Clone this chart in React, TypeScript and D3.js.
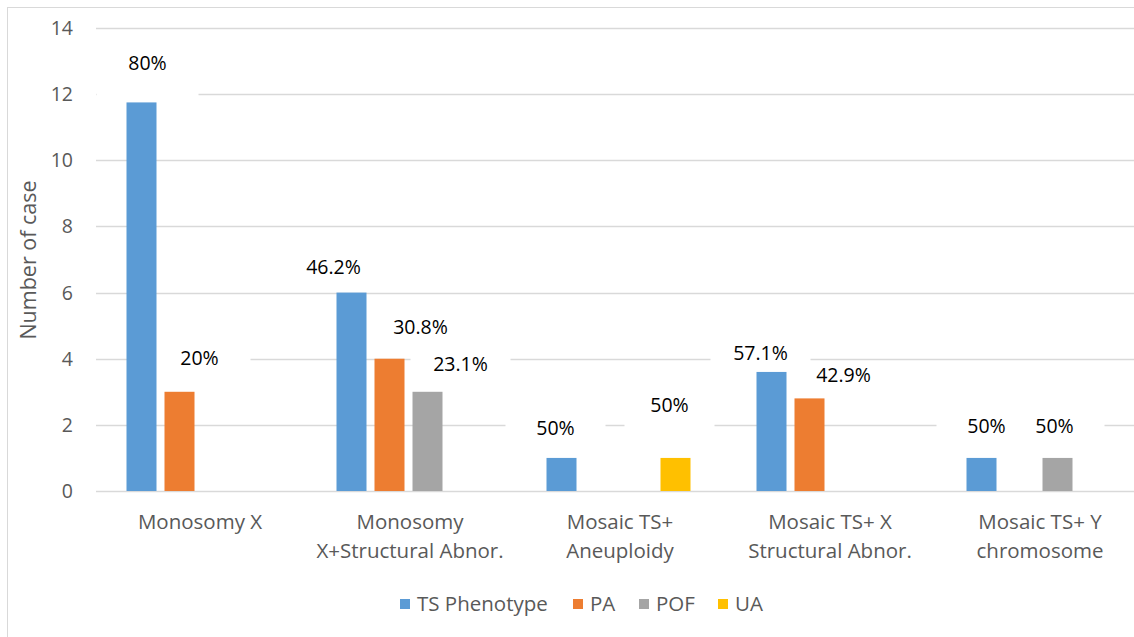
import React from "react";
import * as d3 from "d3";

const categories = [
  ["Monosomy X"],
  ["Monosomy", "X+Structural Abnor."],
  ["Mosaic TS+", "Aneuploidy"],
  ["Mosaic TS+ X", "Structural Abnor."],
  ["Mosaic TS+ Y", "chromosome"],
];
const seriesNames = ["TS Phenotype", "PA", "POF", "UA"];
const seriesColors = ["#5B9BD5", "#ED7D31", "#A5A5A5", "#FFC000"];
const tsPhenotype = [11.75, 6, 1, 3.6, 1];
const pa = [3, 4, 0, 2.8, 0];
const pof = [0, 3, 0, 0, 1];
const ua = [0, 0, 1, 0, 0];
const yTicks = [0, 2, 4, 6, 8, 10, 12, 14];
// data labels: [categoryIndex, seriesIndex, text]
const dataLabels: [number, number, string][] = [
  [0, 0, "80%"],
  [0, 1, "20%"],
  [1, 0, "46.2%"],
  [1, 1, "30.8%"],
  [1, 2, "23.1%"],
  [2, 0, "50%"],
  [2, 3, "50%"],
  [3, 0, "57.1%"],
  [3, 1, "42.9%"],
  [4, 0, "50%"],
  [4, 2, "50%"],
];
// manual label offsets (px) relative to bar center / bar top, plus background box extents
const labelOffsets = [
  { dx: 6, dy: -39, w: 102, up: 18, down: 33 },
  { dx: 20, dy: -34, w: 102, up: 14, down: 12 },
  { dx: -18, dy: -26, w: 100, up: 14, down: 12 },
  { dx: 31, dy: -32, w: 100, up: 14, down: 12 },
  { dx: 33, dy: -28, w: 100, up: 14, down: 12 },
  { dx: -6, dy: -30, w: 100, up: 14, down: 12 },
  { dx: -6, dy: -53, w: 90, up: 14, down: 24 },
  { dx: -11, dy: -19, w: 100, up: 14, down: 12 },
  { dx: 34, dy: -23, w: 100, up: 14, down: 12 },
  { dx: 5, dy: -32, w: 100, up: 14, down: 12 },
  { dx: -3, dy: -32, w: 100, up: 14, down: 12 },
];

const W = 1134;
const H = 637;
const FONT = "'Open Sans', Lato, sans-serif";

export default function App() {
  const series = [tsPhenotype, pa, pof, ua];
  const y = d3.scaleLinear().domain([0, 14]).range([491, 28]);
  const x0 = d3
    .scaleBand<number>()
    .domain(categories.map((_, i) => i))
    .range([95, 1145])
    .paddingInner(0)
    .paddingOuter(0);
  const inner = d3
    .scaleBand<number>()
    .domain(seriesNames.map((_, i) => i))
    .range([31.5, 31.5 + 144])
    .paddingInner(8 / 38)
    .paddingOuter(0);
  const bw = inner.bandwidth();

  const legendX = [400, 573, 639, 718];

  const labelPos = dataLabels.map(([c, s], i) => {
    const o = labelOffsets[i];
    return {
      cx: (x0(c) as number) + (inner(s) as number) + bw / 2 + o.dx,
      cy: y(series[s][c]) + o.dy,
      o,
    };
  });

  return (
    <svg
      width={W}
      height={H}
      style={{ position: "absolute", left: 0, top: 0, background: "#fff", fontFamily: FONT }}
    >
      <rect x={7.5} y={7.5} width={W + 20} height={H + 20} fill="#fff" stroke="#d9d9d9" />
      {yTicks.map((t) => (
        <g key={t}>
          <line x1={96} x2={W} y1={Math.round(y(t)) + 0.5} y2={Math.round(y(t)) + 0.5} stroke="#d9d9d9" strokeWidth={1.5} />
          <text x={73} y={y(t)} dy="0.36em" textAnchor="end" fontSize={19.5} fill="#595959">
            {t}
          </text>
        </g>
      ))}
      <text
        transform={`translate(36,260) rotate(-90)`}
        textAnchor="middle"
        fontSize={21.5}
        fill="#595959"
      >
        Number of case
      </text>
      {labelPos.map(({ cx, cy, o }, i) => (
        <rect key={`b${i}`} x={cx - o.w / 2} y={cy - o.up} width={o.w} height={o.up + o.down} fill="#fff" />
      ))}
      {series.map((vals, s) =>
        vals.map((v, c) =>
          v > 0 ? (
            <rect
              key={`${s}-${c}`}
              x={(x0(c) as number) + (inner(s) as number)}
              y={y(v)}
              width={bw}
              height={y(0) - y(v)}
              fill={seriesColors[s]}
            />
          ) : null
        )
      )}
      {labelPos.map(({ cx, cy }, i) => (
        <text key={`t${i}`} x={cx} y={cy} dy="0.36em" textAnchor="middle" fontSize={19.5} fill="#000">
          {dataLabels[i][2]}
        </text>
      ))}
      {categories.map((lines, c) => (
        <text
          key={c}
          x={(x0(c) as number) + x0.bandwidth() / 2}
          y={522}
          textAnchor="middle"
          fontSize={20.5}
          fill="#595959"
        >
          {lines.map((l, k) => (
            <tspan key={k} x={(x0(c) as number) + x0.bandwidth() / 2} dy={k === 0 ? "0.36em" : 29}>
              {l}
            </tspan>
          ))}
        </text>
      ))}
      {seriesNames.map((n, s) => (
        <g key={n}>
          <rect x={legendX[s]} y={599} width={10} height={10} fill={seriesColors[s]} />
          <text x={legendX[s] + 17} y={604} dy="0.36em" fontSize={20.5} fill="#595959">
            {n}
          </text>
        </g>
      ))}
    </svg>
  );
}
